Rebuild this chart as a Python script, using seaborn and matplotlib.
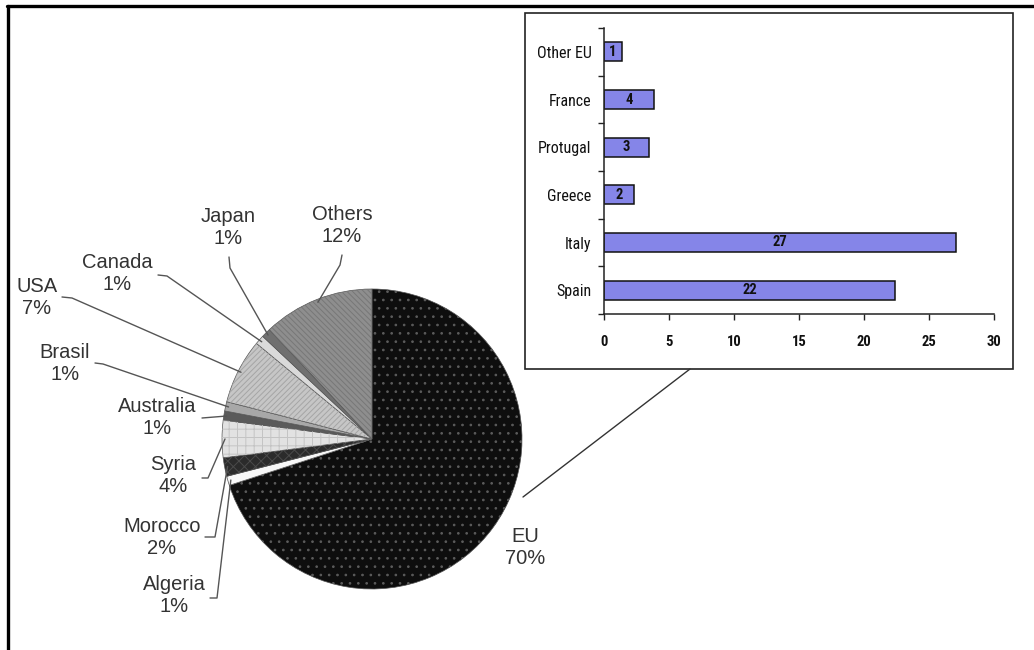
import numpy as np
import pandas as pd
import matplotlib
matplotlib.use("Agg")
import matplotlib.pyplot as plt
import seaborn as sns
from matplotlib import font_manager
from matplotlib.patches import Wedge, Rectangle
from matplotlib.lines import Line2D

# Share of exports by destination (%)
regions = ["EU", "Algeria", "Morocco", "Syria", "Australia", "Brasil",
           "USA", "Canada", "Japan", "Others"]
shares = [70, 1, 2, 4, 1, 1, 7, 1, 1, 12]

# Breakdown of the EU share
eu_countries = ["Other EU", "France", "Protugal", "Greece", "Italy", "Spain"]
eu_values = [1.36, 3.85, 3.44, 2.28, 27.1, 22.4]
x_ticks = [0, 5, 10, 15, 20, 25, 30]

sns.set_style("white")
plt.rcParams["font.family"] = ["Liberation Sans", "DejaVu Sans"]
plt.rcParams["hatch.linewidth"] = 0.7


def first_font(names):
    for n in names:
        try:
            font_manager.findfont(font_manager.FontProperties(family=n),
                                  fallback_to_default=False)
            return n
        except ValueError:
            pass
    return "DejaVu Sans"


narrow = first_font(["Liberation Sans Narrow", "Arial Narrow",
                     "Roboto Condensed", "Liberation Sans"])

W, H = 1034, 650
fig = plt.figure(figsize=(W / 100, H / 100), dpi=100)
ax = fig.add_axes([0, 0, 1, 1])


def py(y):
    """Top-down pixel row -> axes y."""
    return H - y


# ---- pie ----
center = (372, py(439))
radius = 150
faces = ["#0e0e0e", "#f7f7f7", "#2b2b2b", "#e2e2e2", "#5a5a5a", "#a8a8a8",
         "#c6c6c6", "#dadada", "#707070", "#8e8e8e"]
hatches = ["..", None, "xxx", "++", None, None, "//////", None, None, "\\\\\\\\\\\\"]
hatch_cols = ["#5c5c5c", None, "#4a4a4a", "#c4c4c4", None, None, "#a5a5a5",
              None, None, "#777777"]

wedges, _ = ax.pie(shares, center=center, radius=radius, startangle=90,
                   counterclock=False, colors=faces,
                   wedgeprops=dict(edgecolor="#555555", linewidth=0.5))
for w, h, hc in zip(wedges, hatches, hatch_cols):
    if h:
        ax.add_patch(Wedge(w.center, w.r, w.theta1, w.theta2, facecolor="none",
                           edgecolor=hc, hatch=h, linewidth=0))

# label block centre and elbow points of the leader line
label_layout = {
    "EU": ((525, 547), []),
    "Algeria": ((174, 595), [(210, 598), (217, 598)]),
    "Morocco": ((162, 537), [(205, 537), (215, 537)]),
    "Syria": ((173, 476), [(202, 478), (208, 478)]),
    "Australia": ((157, 417), [(202, 418)]),
    "Brasil": ((65, 364), [(95, 363), (103, 364)]),
    "USA": ((37, 298), [(62, 297), (72, 298)]),
    "Canada": ((117, 274), [(158, 275), (167, 276)]),
    "Japan": ((228, 227), [(229, 257), (230, 268)]),
    "Others": ((342, 225), [(342, 255), (340, 265)]),
}

for w, name, share in zip(wedges, regions, shares):
    (tx, ty), elbow = label_layout[name]
    ax.text(tx, py(ty), f"{name}\n{share}%", ha="center", va="center",
            fontsize=14.5, color="#333333", linespacing=1.2)
    if elbow:
        mid = np.deg2rad((w.theta1 + w.theta2) / 2)
        ex = w.center[0] + 0.98 * w.r * np.cos(mid)
        ey = w.center[1] + 0.98 * w.r * np.sin(mid)
        xs = [p[0] for p in elbow] + [ex]
        ys = [py(p[1]) for p in elbow] + [ey]
        ax.plot(xs, ys, color="#555555", lw=1)

# connector from the EU slice to the breakdown box
ax.plot([523, 690], [py(497), py(369)], color="#333333", lw=1)

# breakdown box
ax.add_patch(Rectangle((525, py(369)), 488, 356, facecolor="white",
                       edgecolor="#222222", lw=1.2, zorder=0.5))

# outer frame (top and left rules)
ax.add_line(Line2D([7, W], [py(6), py(6)], color="black", lw=2.4, clip_on=False))
ax.add_line(Line2D([8, 8], [py(6), 0], color="black", lw=2.4, clip_on=False))

ax.set_xlim(0, W)
ax.set_ylim(0, H)
ax.set_aspect("auto")
ax.axis("off")

# ---- EU breakdown bars ----
iax = fig.add_axes([604 / W, (H - 314) / H, 390 / W, 286 / H])
iax.patch.set_alpha(0)
df = pd.DataFrame({"country": eu_countries, "value": eu_values})
sns.barplot(data=df, x="value", y="country", orient="h", color="#8585e8",
            saturation=1, width=0.4, edgecolor="#111111", linewidth=1.1,
            ax=iax)
iax.bar_label(iax.containers[0], fmt="%.0f", label_type="center",
              fontsize=10.5, fontweight="bold", family=narrow,
              color="#111111")

iax.set_xlim(0, 30)
iax.set_ylim(5.5, -0.5)
iax.set_xticks(x_ticks)
iax.set_yticks(np.arange(-0.5, 6, 1), minor=True)
iax.set_xlabel("")
iax.set_ylabel("")
for side in ("top", "right"):
    iax.spines[side].set_visible(False)
for side in ("left", "bottom"):
    iax.spines[side].set_visible(True)
    iax.spines[side].set_color("#222222")
    iax.spines[side].set_linewidth(1.1)
iax.tick_params(axis="x", which="major", bottom=True, length=4, width=1,
                direction="out", pad=11, color="#222222")
iax.tick_params(axis="y", which="major", left=False, length=0, pad=9)
iax.tick_params(axis="y", which="minor", left=True, length=4, width=1,
                direction="out", color="#222222")
for lab in iax.get_xticklabels():
    lab.set_family(narrow)
    lab.set_fontsize(10.5)
    lab.set_fontweight("bold")
    lab.set_color("#111111")
for lab in iax.get_yticklabels():
    lab.set_family(narrow)
    lab.set_fontsize(11.5)
    lab.set_color("#111111")

fig.savefig("out.png", dpi=100)
